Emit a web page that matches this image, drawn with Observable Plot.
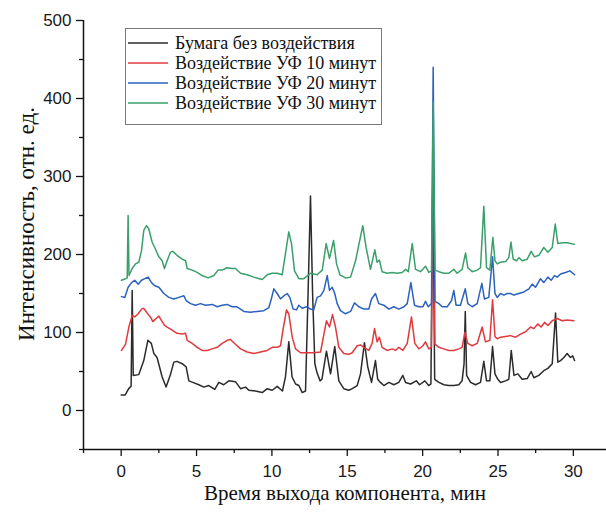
<!DOCTYPE html>
<html><head><meta charset="utf-8">
<script src="https://cdn.jsdelivr.net/npm/d3@7"></script>
<script src="https://cdn.jsdelivr.net/npm/@observablehq/plot@0.6"></script>
<style>
body{margin:0;background:#fff;}
#chart svg{display:block;}
</style></head><body><div id="chart"></div>
<script>
const seriesNames = ["Бумага без воздействия","Воздействие УФ 10 минут","Воздействие УФ 20 минут","Воздействие УФ 30 минут"];
const seriesColors = ["#2b2b2b","#e03a3e","#2a62bd","#3a9f6b"];
const xLabel = "Время выхода компонента, мин";
const yLabel = "Интенсивность, отн. ед.";
const xTicks = [0,5,10,15,20,25,30];
const xMinorTicks = [-2.5,2.5,7.5,12.5,17.5,22.5,27.5];
const yTicks = [0,100,200,300,400,500];
const yMinorTicks = [-50,50,150,250,350,450];

// [time, intensity]
const black = [[0,20],[0.27,20],[0.5,28],[0.66,31],[0.73,154],[0.8,45],[1.17,46],[1.5,64],[1.77,90],[2.0,86],[2.17,73],[2.38,68],[2.72,43],[2.98,30],[3.27,46],[3.49,62],[3.7,63],[4.05,60],[4.31,56],[4.49,38],[4.75,36],[5.15,33],[5.48,30],[5.81,32],[6.21,27],[6.48,36],[6.8,33],[7.14,38],[7.58,37],[7.92,28],[8.25,30],[8.47,26],[8.91,25],[9.36,23],[9.69,28],[10.02,26],[10.35,31],[10.7,25],[10.9,43],[11.12,88],[11.34,43],[11.57,34],[11.79,32],[12.01,23],[12.23,25],[12.4,150],[12.56,275],[12.7,150],[12.85,60],[13.0,48],[13.2,38],[13.32,40],[13.45,56],[13.62,76],[13.89,47],[14.17,82],[14.44,38],[14.77,28],[15.1,26],[15.33,28],[15.66,32],[15.88,47],[16.14,87],[16.36,56],[16.61,36],[16.87,64],[17.02,40],[17.2,36],[17.43,32],[17.76,36],[18.09,33],[18.42,36],[18.69,45],[18.87,36],[19.2,34],[19.58,38],[19.8,33],[20.15,38],[20.4,32],[20.55,34],[20.68,310],[20.8,40],[21.08,36],[21.41,33],[21.74,32],[22.07,32],[22.4,33],[22.62,38],[22.75,60],[22.83,127],[22.92,45],[23.18,36],[23.51,33],[23.84,36],[24.06,63],[24.24,38],[24.46,38],[24.64,82],[24.8,47],[24.99,40],[25.17,36],[25.5,38],[25.72,40],[25.88,77],[26.06,45],[26.32,47],[26.6,40],[26.94,41],[27.2,50],[27.38,42],[27.71,45],[28.04,51],[28.31,54],[28.6,60],[28.82,125],[28.97,62],[29.15,64],[29.37,68],[29.59,73],[29.81,68],[29.96,70],[30.08,64]];
const red = [[0.02,77],[0.29,85],[0.51,107],[0.73,122],[0.9,120],[1.13,124],[1.35,130],[1.5,131],[1.72,125],[1.94,120],[2.1,114],[2.32,118],[2.5,121],[2.72,114],[2.88,109],[3.05,107],[3.38,103],[3.7,99],[4.05,98],[4.27,99],[4.38,90],[4.71,86],[5.04,81],[5.37,77],[5.7,77],[6.04,79],[6.37,81],[6.7,86],[7.03,90],[7.25,91],[7.58,85],[7.92,79],[8.36,75],[8.8,73],[9.24,75],[9.69,77],[10.02,81],[10.35,81],[10.57,83],[10.75,105],[10.97,129],[11.12,124],[11.35,94],[11.57,79],[11.9,74],[12.34,74],[12.78,74],[13.23,75],[13.45,98],[13.62,115],[13.82,107],[14.02,123],[14.22,107],[14.44,81],[14.77,73],[15.1,72],[15.33,74],[15.66,83],[15.88,84],[16.1,81],[16.43,77],[16.65,86],[16.81,105],[16.98,88],[17.13,94],[17.31,81],[17.65,77],[17.98,79],[18.2,77],[18.42,81],[18.69,77],[18.98,86],[19.26,120],[19.48,86],[19.75,79],[20.02,83],[20.19,88],[20.41,79],[20.59,81],[20.7,350],[20.82,85],[21.08,81],[21.41,79],[21.74,77],[22.07,77],[22.4,79],[22.62,81],[22.8,100],[23.0,86],[23.29,83],[23.62,86],[23.95,107],[24.17,88],[24.46,90],[24.64,142],[24.8,95],[24.95,92],[25.17,94],[25.5,95],[25.83,96],[26.17,94],[26.5,98],[26.83,101],[27.16,107],[27.38,105],[27.64,111],[27.86,107],[28.09,113],[28.31,109],[28.6,115],[28.93,118],[29.26,115],[29.59,116],[30.03,115]];
const blue = [[0.02,146],[0.24,145],[0.46,158],[0.69,164],[0.9,167],[1.13,162],[1.35,167],[1.57,169],[1.79,171],[2.01,164],[2.23,160],[2.5,158],[2.83,150],[3.16,145],[3.49,143],[3.82,145],[4.16,147],[4.31,141],[4.6,137],[4.93,135],[5.26,137],[5.59,135],[6.04,136],[6.37,133],[6.7,135],[7.03,136],[7.36,133],[7.69,133],[8.14,127],[8.58,126],[9.02,127],[9.46,128],[9.8,132],[9.96,143],[10.13,156],[10.35,150],[10.57,143],[10.79,147],[11.01,150],[11.19,145],[11.41,130],[11.63,129],[11.79,135],[12.01,131],[12.3,133],[12.56,130],[12.78,129],[13.0,145],[13.23,147],[13.45,154],[13.67,173],[13.82,154],[14.0,158],[14.17,150],[14.33,137],[14.55,128],[14.88,124],[15.22,127],[15.48,138],[15.77,133],[16.1,130],[16.43,130],[16.61,143],[16.87,150],[17.09,137],[17.43,135],[17.76,130],[18.09,133],[18.42,130],[18.76,133],[18.98,137],[19.22,164],[19.46,135],[19.75,133],[20.02,133],[20.19,140],[20.37,133],[20.59,137],[20.7,440],[20.82,140],[21.08,137],[21.3,133],[21.63,133],[21.92,141],[22.07,154],[22.22,135],[22.51,135],[22.83,156],[23.0,137],[23.29,133],[23.62,137],[23.93,163],[24.1,143],[24.39,145],[24.64,197],[24.8,150],[24.95,145],[25.17,150],[25.39,148],[25.61,150],[25.83,150],[26.06,148],[26.39,150],[26.72,152],[27.05,156],[27.27,162],[27.49,158],[27.82,169],[28.04,164],[28.31,171],[28.53,167],[28.75,173],[28.93,171],[29.15,175],[29.48,177],[29.77,179],[30.08,174]];
const green = [[0.02,167],[0.29,169],[0.4,170],[0.46,250],[0.52,173],[0.73,182],[0.95,188],[1.17,190],[1.35,205],[1.5,231],[1.68,237],[1.83,233],[2.05,216],[2.27,207],[2.5,197],[2.72,192],[2.87,182],[3.05,192],[3.27,203],[3.43,204],[3.7,199],[4.05,194],[4.27,192],[4.38,182],[4.71,180],[5.04,177],[5.37,173],[5.77,170],[6.15,173],[6.43,180],[6.7,180],[7.03,183],[7.36,182],[7.58,182],[7.92,176],[8.36,174],[8.8,171],[9.36,168],[9.69,174],[10.02,176],[10.35,176],[10.68,174],[10.9,201],[11.12,229],[11.3,214],[11.5,179],[11.79,169],[12.12,169],[12.56,176],[13.0,174],[13.34,180],[13.6,214],[13.82,195],[14.09,218],[14.29,188],[14.51,174],[14.88,170],[15.22,171],[15.55,192],[16.03,237],[16.25,209],[16.54,181],[16.83,206],[16.98,190],[17.13,193],[17.31,178],[17.65,176],[17.98,177],[18.31,176],[18.64,177],[18.87,181],[19.05,178],[19.31,214],[19.53,181],[19.86,178],[20.19,185],[20.41,177],[20.59,179],[20.7,395],[20.82,180],[21.08,178],[21.41,176],[21.74,176],[22.07,181],[22.29,176],[22.62,181],[22.85,202],[23.0,183],[23.29,178],[23.62,180],[23.84,183],[24.06,262],[24.24,183],[24.46,180],[24.66,222],[24.8,192],[24.95,188],[25.17,190],[25.5,191],[25.72,196],[25.86,216],[26.01,194],[26.23,192],[26.39,196],[26.6,192],[26.94,194],[27.2,204],[27.42,197],[27.71,199],[28.04,209],[28.31,203],[28.6,209],[28.8,239],[28.97,214],[29.26,215],[29.59,215],[30.08,213]];

const rows = [];
[black, red, blue, green].forEach((arr, i) => arr.forEach(([t, v]) => rows.push({t, v, s: seriesNames[i]})));

const serif = "'Liberation Serif', 'Times New Roman', serif";
const plot = Plot.plot({
  width: 606, height: 517,
  marginLeft: 83, marginRight: 0, marginTop: 20, marginBottom: 68,
  x: {domain: [-2.5, 32.2]},
  y: {domain: [-50, 500]},
  color: {domain: seriesNames, range: seriesColors},
  style: {fontFamily: "'Liberation Sans', Arial, sans-serif", fontSize: "17px", color: "#1a1a1a", background: "#fff"},
  marks: [
    Plot.axisX({ticks: xTicks, tickSize: 7, tickPadding: 8, label: null, stroke: "#111", strokeWidth: 1.3}),
    Plot.axisX({ticks: xMinorTicks, tickSize: 4, tickFormat: () => "", label: null, stroke: "#111", strokeWidth: 1.3}),
    Plot.axisY({ticks: yTicks, tickSize: 7, tickPadding: 5, label: null, stroke: "#111", strokeWidth: 1.3}),
    Plot.axisY({ticks: yMinorTicks, tickSize: 4, tickFormat: () => "", label: null, stroke: "#111", strokeWidth: 1.3}),
    Plot.ruleX([-2.5], {stroke: "#111", strokeWidth: 1.5}),
    Plot.ruleY([-50], {stroke: "#111", strokeWidth: 1.5}),
    Plot.lineY(rows, {x: "t", y: "v", z: "s", stroke: "s", strokeWidth: 1.5, strokeLinejoin: "round"}),
    Plot.text([xLabel], {frameAnchor: "bottom", textAnchor: "middle", dy: 50, fontFamily: serif, fontSize: 21, fill: "#111"}),
    Plot.text([yLabel], {frameAnchor: "left", textAnchor: "middle", rotate: -90, dx: -57, dy: -11, fontFamily: serif, fontSize: 23, fill: "#111"})
  ]
});
document.getElementById("chart").appendChild(plot);

// legend
const svg = d3.select(plot);
const lg = svg.append("g").attr("class", "legend").attr("text-anchor", "start");
lg.append("rect").attr("x", 125.5).attr("y", 28.5).attr("width", 256).attr("height", 96)
  .attr("fill", "#fff").attr("stroke", "#777").attr("stroke-width", 1);
seriesNames.forEach((name, i) => {
  const yy = 43 + i * 20;
  lg.append("line").attr("x1", 128).attr("x2", 168).attr("y1", yy).attr("y2", yy)
    .attr("stroke", seriesColors[i]).attr("stroke-width", 1.5);
  lg.append("text").attr("x", 175).attr("y", yy).attr("dy", "0.35em").attr("text-anchor", "start")
    .attr("font-family", serif).attr("font-size", 18)
    .attr("fill", "#111").text(name);
});
</script></body></html>
